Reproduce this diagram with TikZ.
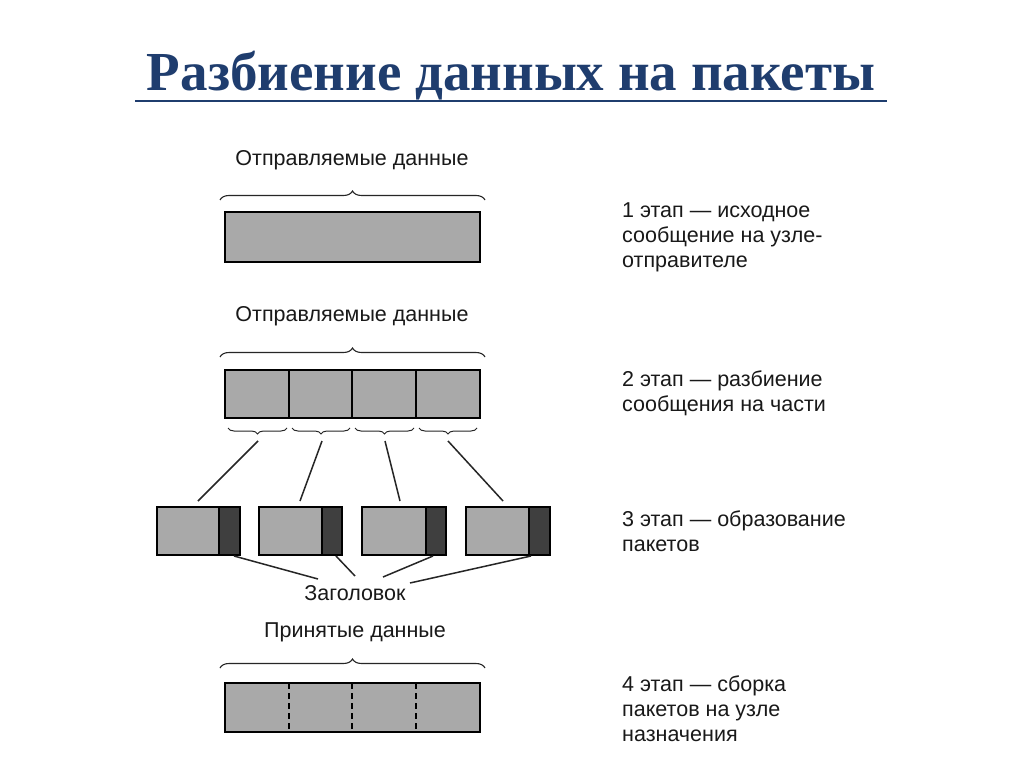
\documentclass[tikz,border=0pt]{standalone}
\usepackage{fontspec}
\setmainfont{Liberation Sans}
\newfontfamily\titlefont{Liberation Serif}
\usetikzlibrary{decorations.pathreplacing}
\definecolor{titleblue}{HTML}{1F3D6E}
\definecolor{boxgray}{HTML}{A9A9A9}
\definecolor{hdrgray}{HTML}{3F3F3F}
\begin{document}
\begin{tikzpicture}[x=1pt,y=-1pt,
  databox/.style={draw=black,line width=1.6pt,fill=boxgray},
  hdrbox/.style={draw=black,line width=1.6pt,fill=hdrgray},
  brc/.style={decorate,decoration={brace,amplitude=9pt},line width=1.1pt,draw=black!85},
  brcdown/.style={decorate,decoration={brace,amplitude=6pt,mirror},line width=1pt,draw=black!85},
  lbl/.style={font=\fontsize{21.5}{24}\selectfont,text=black!90},
  stagetxt/.style={font=\fontsize{21.5}{24.8}\selectfont,text=black!90,align=left,anchor=north west,inner sep=0pt},
  conn/.style={line width=1.5pt,draw=black!85}]
\useasboundingbox (0,0) rectangle (1024,767);
\fill[white] (0,0) rectangle (1024,767);
% title
\node[font=\titlefont\bfseries\fontsize{55}{60}\selectfont,text=titleblue,inner sep=0pt] (title) at (511,76) {Разбиение данных на пакеты};
\draw[titleblue,line width=2.5pt] (135,101) -- (887,101);
% stage 1
\node[lbl] (l1) at (352,160) {Отправляемые данные};
\draw[brc] (220,200) -- (485,200);
\draw[databox] (225,212) rectangle (480,262);
\node[stagetxt] (s1) at (622,203) {1 этап — исходное\\сообщение на узле-\\отправителе};
% stage 2
\node[lbl] (l2) at (352,316) {Отправляемые данные};
\draw[brc] (220,357) -- (485,357);
\draw[databox] (225,370) rectangle (480,418);
\foreach \x in {289,352,416} \draw[line width=1.6pt] (\x,370) -- (\x,418);
\node[stagetxt] (s2) at (622,371) {2 этап — разбиение\\сообщения на части};
\foreach \a/\b in {228/287,292/350,355/414,419/477}
  \draw[brcdown] (\a,428) -- (\b,428);
\coordinate (t1) at (258,441); \coordinate (t2) at (322,441);
\coordinate (t3) at (385,441); \coordinate (t4) at (448,441);
% stage 3 packets
\foreach \x/\h/\e in {157/219/240,259/322/342,362/426/446,466/529/550}{
  \draw[databox] (\x,507) rectangle (\h,555);
  \draw[hdrbox] (\h,507) rectangle (\e,555);
}
\coordinate (pt1) at (198,501); \coordinate (pt2) at (300,501);
\coordinate (pt3) at (400,501); \coordinate (pt4) at (503,501);
\foreach \n in {1,...,4} \draw[conn] (t\n) -- (pt\n);
\node[stagetxt] (s3) at (622,511) {3 этап — образование\\пакетов};
\node[lbl] (hdr) at (355,593) {Заголовок};
\coordinate (h1) at (234,556); \coordinate (h2) at (336,556);
\coordinate (h3) at (433,556); \coordinate (h4) at (531,556);
\draw[conn] (h1) -- (318,579);
\draw[conn] (h2) -- (355,576);
\draw[conn] (h3) -- (383,577);
\draw[conn] (h4) -- (410,583);
% stage 4
\node[lbl] (l4) at (355,632) {Принятые данные};
\draw[brc] (220,668) -- (485,668);
\draw[databox] (225,683) rectangle (480,732);
\foreach \x in {289,352,416} \draw[line width=1.4pt,dash pattern=on 6pt off 4pt] (\x,683) -- (\x,732);
\node[stagetxt] (s4) at (622,676) {4 этап — сборка\\пакетов на узле\\назначения};
\end{tikzpicture}
\end{document}
